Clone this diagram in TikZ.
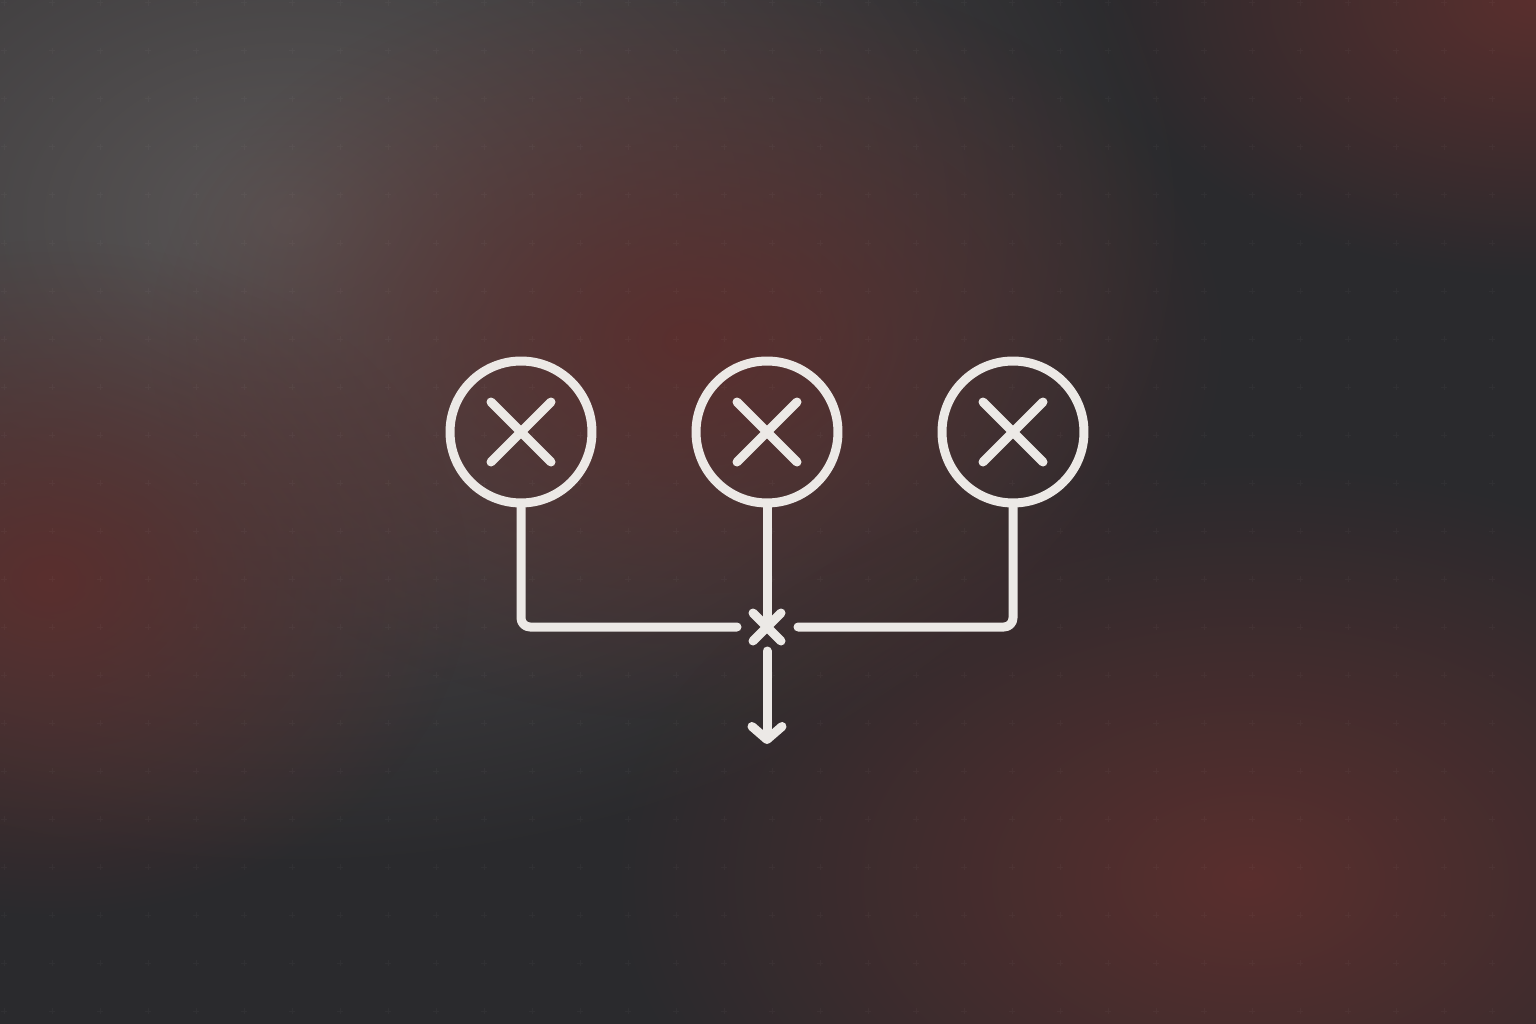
\documentclass[tikz,border=0pt]{standalone}
\usetikzlibrary{arrows.meta,fadings}

\definecolor{bgbase}{HTML}{2A2A2D}
\definecolor{smoke}{HTML}{5A5656}
\definecolor{ember}{HTML}{5A2F2E}
\definecolor{chalk}{HTML}{ECE9E6}

\tikzfading[name=glow, inner color=transparent!0, outer color=transparent!100]

\begin{document}
\begin{tikzpicture}[x=0.02cm,y=-0.02cm,
    wire/.style={draw=chalk, line width=0.18cm, line cap=round, line join=round},
    gate/.style={circle, wire, minimum size=2.84cm, inner sep=0pt}]
        % Backdrop
        \useasboundingbox (0,0) rectangle (1536,1024);
        \begin{scope}
            \clip (0,0) rectangle (1536,1024);
            \fill[bgbase] (0,0) rectangle (1536,1024);
            \fill[smoke, path fading=glow] (290,220) ellipse (900 and 650);
            \fill[ember, path fading=glow] (690,340) ellipse (540 and 380);
            \fill[ember, path fading=glow] (50,580) ellipse (420 and 340);
            \fill[ember, path fading=glow] (1250,880) ellipse (640 and 420);
            \fill[ember, path fading=glow] (1536,0) ellipse (440 and 280);
            % Faint grid
            \foreach \gx in {4,52,...,1540} {
                \foreach \gy in {3,51,...,1030} {
                    \draw[white, opacity=0.03, line width=0.02cm] (\gx-3,\gy) -- (\gx+3,\gy) (\gx,\gy-3) -- (\gx,\gy+3);
                }
            }
        \end{scope}
        % Inputs
        \foreach \i/\px in {1/521,2/767,3/1013} {
            \node[gate] (src\i) at (\px,432) {};
            \draw[wire] (src\i.center) ++(-30,-30) -- ++(60,60);
            \draw[wire] (src\i.center) ++(-30,30) -- ++(60,-60);
        }
        % Merge point
        \coordinate (merge) at (767,627);
        \coordinate (mergeW) at (737,627);
        \coordinate (mergeE) at (798,627);
        \coordinate (outN) at (767,651);
        \coordinate (outS) at (767,744);
        \draw[wire] (merge) ++(-14,-14) -- ++(28,28);
        \draw[wire] (merge) ++(-14,14) -- ++(28,-28);
        \draw[wire, rounded corners=0.18cm] (src1.south) |- (mergeW);
        \draw[wire, rounded corners=0.18cm] (src3.south) |- (mergeE);
        \draw[wire] (src2.south) -- (merge);
        % Output
        \draw[wire, -{Straight Barb[length=0.26cm, width=0.6cm, round]}] (outN) -- (outS);
\end{tikzpicture}
\end{document}
